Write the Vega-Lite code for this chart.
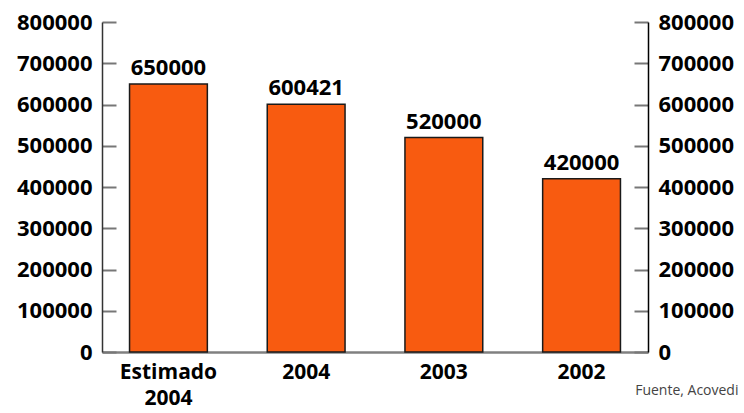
{
  "$schema": "https://vega.github.io/schema/vega-lite/v6.json",
  "width": 546,
  "height": 330,
  "autosize": {"type": "none"},
  "padding": {"left": 102, "top": 22, "right": 96, "bottom": 61},
  "background": "white",
  "config": {"view": {"stroke": null}, "font": "Open Sans"},
  "title": {"text": "Fuente, Acovedi", "orient": "bottom", "anchor": "end", "fontSize": 14, "fontWeight": "normal", "font": "Open Sans", "color": "#444444", "dx": 5, "dy": -24, "offset": 0},
  "data": {"values": [
    {"periodo": "Estimado 2004", "valor": 650000},
    {"periodo": "2004", "valor": 600421},
    {"periodo": "2003", "valor": 520000},
    {"periodo": "2002", "valor": 420000}
  ]},
  "encoding": {
    "x": {"field": "periodo", "type": "nominal", "sort": null, "scale": {"paddingInner": 0.435, "paddingOuter": 0.2},
      "axis": {"title": null, "labelAngle": 0, "ticks": false, "labelPadding": 9, "labelFont": "Open Sans", "labelFontSize": 21, "labelFontWeight": "bold", "labelColor": "#000000", "domainColor": "#808080", "domainWidth": 2.5, "labelLineHeight": 26,
        "labelExpr": "datum.value == 'Estimado 2004' ? ['Estimado', '2004'] : datum.label"}}
  },
  "layer": [
    {
      "mark": {"type": "bar", "fill": "#F85B10", "stroke": "#1a1a1a", "strokeWidth": 1.5},
      "encoding": {
        "y": {"field": "valor", "type": "quantitative", "scale": {"domain": [0, 800000], "nice": false},
          "axis": {"title": null, "orient": "left", "grid": false, "values": [0, 100000, 200000, 300000, 400000, 500000, 600000, 700000, 800000], "format": "d", "tickSize": -14, "tickColor": "#777777", "tickWidth": 2, "domainColor": "#333333", "domainWidth": 1.5, "labelPadding": 24, "labelFont": "Open Sans", "labelFontSize": 22, "labelFontWeight": "bold", "labelColor": "#000000"}}
      }
    },
    {
      "mark": {"type": "text", "baseline": "bottom", "dy": -4, "font": "Open Sans", "fontSize": 22, "fontWeight": "bold", "color": "#000000"},
      "encoding": {
        "y": {"field": "valor", "type": "quantitative", "scale": {"domain": [0, 800000], "nice": false},
          "axis": {"title": null, "orient": "right", "grid": false, "values": [0, 100000, 200000, 300000, 400000, 500000, 600000, 700000, 800000], "format": "d", "tickSize": -14, "tickColor": "#777777", "tickWidth": 2, "domainColor": "#000000", "domainWidth": 1.5, "labelPadding": 24, "labelFont": "Open Sans", "labelFontSize": 22, "labelFontWeight": "bold", "labelColor": "#000000"}},
        "text": {"field": "valor", "type": "quantitative", "format": "d"}
      }
    }
  ],
  "resolve": {"axis": {"y": "independent"}}
}
